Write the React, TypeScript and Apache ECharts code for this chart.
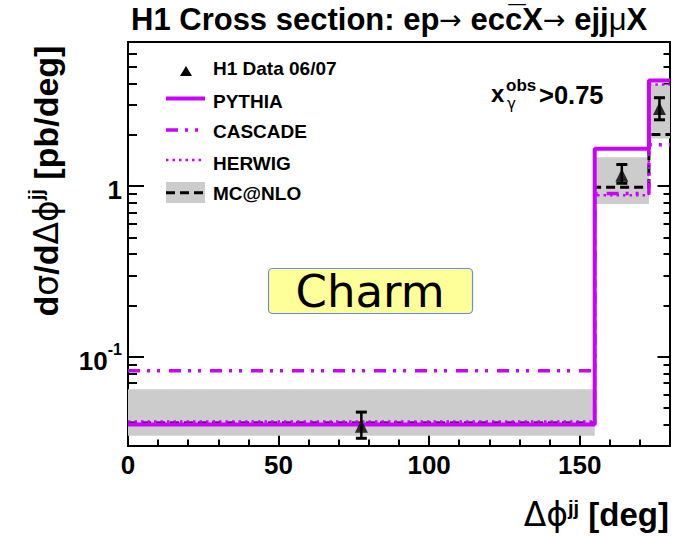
import React, { useEffect, useRef } from "react";
import * as echarts from "echarts";

// ---- data ----
const binEdges = [0, 155, 173, 180];
const pythia = [0.0401, 1.66, 4.17];
const cascade = [0.0827, 0.906, 1.75];
const herwig = [0.0417, 0.886, 3.95];
const mcnlo = [0.0409, 0.987, 2.01];
const mcnloLow = [0.0345, 0.785, 1.9];
const mcnloHigh = [0.0645, 1.48, 3.95];
const dataX = [77.5, 164, 176.5];
const dataY = [0.0392, 1.16, 2.85];
const dataLow = [0.0333, 1.04, 2.45];
const dataHigh = [0.0474, 1.34, 3.3];
const xMajorTicks = [0, 50, 100, 150];
const xMinorTicks = [10, 20, 30, 40, 60, 70, 80, 90, 110, 120, 130, 140, 160, 170];
const yMajorTicks = [0.1, 1];
const yMinorTicks = [0.04, 0.05, 0.06, 0.07, 0.08, 0.09, 0.2, 0.3, 0.4, 0.5, 0.6, 0.7, 0.8, 0.9, 2, 3, 4, 5, 6, 7];
const yMin = 0.03;
const yMax = 7;

const MAG = "#cc00ff";
const FONT = "Liberation Sans";
const L = (v: number) => Math.log10(v);

const step = (vals: number[]) => {
  const pts: number[][] = [];
  vals.forEach((v, i) => {
    pts.push([binEdges[i], L(v)], [binEdges[i + 1], L(v)]);
  });
  return pts;
};

const tickStyle = { color: "#000", width: 2 };

function yAxisDef(position: string, ticks: number[], len: number, labels: boolean) {
  const vals = ticks.map((t) => L(t));
  return {
    type: "value",
    position,
    min: L(yMin),
    max: L(yMax),
    axisLine: { show: false, onZero: false },
    splitLine: { show: false },
    axisTick: { show: true, inside: true, length: len, customValues: vals, lineStyle: tickStyle },
    axisLabel: labels
      ? {
          show: true,
          customValues: vals,
          margin: 6,
          color: "#000",
          fontFamily: FONT,
          fontWeight: "bold",
          fontSize: 26,
          formatter: (v: number) => (v > -0.5 ? "{n|1}" : "{n|10}{s|-1}"),
          rich: {
            n: { fontFamily: FONT, fontWeight: "bold", fontSize: 26, color: "#000", lineHeight: 30, padding: [8, 0, 0, 0] },
            s: { fontFamily: FONT, fontWeight: "bold", fontSize: 16, color: "#000", verticalAlign: "top", lineHeight: 16 },
          },
        }
      : { show: false },
  };
}

function xAxisDef(ticks: number[], len: number, labels: boolean) {
  return {
    type: "value",
    position: "bottom",
    min: 0,
    max: 180,
    axisLine: { show: false, onZero: false },
    splitLine: { show: false },
    axisTick: { show: true, inside: true, length: len, customValues: ticks, lineStyle: tickStyle },
    axisLabel: labels
      ? { show: true, customValues: ticks, margin: 6, color: "#000", fontFamily: FONT, fontWeight: "bold", fontSize: 26 }
      : { show: false },
  };
}

export default function App() {
  const ref = useRef<HTMLDivElement>(null);
  useEffect(() => {
    if (!ref.current) return;
    const chart = echarts.init(ref.current, null, { renderer: "svg" });

    const bandData = mcnloLow.map((lo, i) => [binEdges[i], binEdges[i + 1], L(lo), L(mcnloHigh[i])]);
    const errData = dataX.map((x, i) => [x, L(dataLow[i]), L(dataHigh[i])]);

    const option: any = {
      animation: false,
      textStyle: { fontFamily: FONT },
      grid: { left: 128, right: 5, top: 42, bottom: 90, show: true, borderColor: "#000", borderWidth: 2, backgroundColor: "transparent" },
      xAxis: [xAxisDef(xMajorTicks, 12, true), xAxisDef(xMinorTicks, 6.5, false)],
      yAxis: [
        yAxisDef("left", yMajorTicks, 16, true),
        yAxisDef("left", yMinorTicks, 9, false),
        yAxisDef("right", yMajorTicks, 12.5, false),
        yAxisDef("right", yMinorTicks, 6.5, false),
      ],
      series: [
        {
          type: "custom",
          name: "MC@NLO band",
          z: 1,
          data: bandData,
          encode: { x: [0, 1], y: [2, 3] },
          renderItem: (params: any, api: any) => {
            const p0 = api.coord([api.value(0), api.value(3)]);
            const p1 = api.coord([api.value(1), api.value(2)]);
            return {
              type: "rect",
              shape: { x: p0[0], y: p0[1], width: p1[0] - p0[0], height: p1[1] - p0[1] },
              style: { fill: "#cccccc" },
            };
          },
        },
        {
          type: "line", name: "MC@NLO", z: 2, showSymbol: false, symbol: "none", data: step(mcnlo),
          lineStyle: { color: "#000", width: 3, type: [9, 5] },
        },
        {
          type: "line", name: "HERWIG", z: 3, showSymbol: false, symbol: "none", data: step(herwig),
          lineStyle: { color: MAG, width: 2.5, type: [2.5, 4] },
        },
        {
          type: "line", name: "CASCADE", z: 3, showSymbol: false, symbol: "none", data: step(cascade),
          lineStyle: { color: MAG, width: 3.5, type: [12, 7, 3, 7, 3, 9] },
        },
        {
          type: "line", name: "PYTHIA", z: 4, showSymbol: false, symbol: "none", data: step(pythia),
          lineStyle: { color: MAG, width: 4 },
        },
        {
          type: "custom",
          name: "errors",
          z: 5,
          data: errData,
          encode: { x: 0, y: [1, 2] },
          renderItem: (params: any, api: any) => {
            const lo = api.coord([api.value(0), api.value(1)]);
            const hi = api.coord([api.value(0), api.value(2)]);
            const w = 5.5;
            const st = { stroke: "#000", lineWidth: 3 };
            return {
              type: "group",
              children: [
                { type: "line", shape: { x1: lo[0], y1: lo[1], x2: hi[0], y2: hi[1] }, style: { stroke: "#000", lineWidth: 2.5 } },
                { type: "line", shape: { x1: lo[0] - w, y1: lo[1], x2: lo[0] + w, y2: lo[1] }, style: st },
                { type: "line", shape: { x1: hi[0] - w, y1: hi[1], x2: hi[0] + w, y2: hi[1] }, style: st },
              ],
            };
          },
        },
        {
          type: "scatter", name: "H1 Data 06/07", z: 6, symbol: "triangle", symbolSize: [13, 13],
          itemStyle: { color: "#000" },
          data: dataX.map((x, i) => [x, L(dataY[i])]),
        },
      ],
      graphic: [
        // title
        {
          type: "text", x: 131, y: 19,
          style: {
            text: "{b|H1 Cross section: ep}{a|→}{b| ecc\u0305X}{a|→}{b| ejj}{m|μ}{b|X}",
            align: "left", verticalAlign: "middle",
            rich: {
              b: { fontFamily: FONT, fontWeight: "bold", fontSize: 31, fill: "#000" },
              a: { fontFamily: "DejaVu Sans", fontWeight: "normal", fontSize: 27, fill: "#000" },
              m: { fontFamily: FONT, fontWeight: "normal", fontSize: 31, fill: "#000" },
            },
          },
        },
        // y axis title
        {
          type: "text", x: 46, y: 181, rotation: Math.PI / 2,
          style: {
            text: "{b|d}{g|σ}{b|/d}{g|Δϕ}{s|jj}{b| [pb/deg]}",
            align: "center", verticalAlign: "middle",
            rich: {
              b: { fontFamily: FONT, fontWeight: "bold", fontSize: 34, fill: "#000", lineHeight: 40 },
              g: { fontFamily: "DejaVu Sans", fontWeight: "normal", fontSize: 33, fill: "#000", lineHeight: 40 },
              s: { fontFamily: FONT, fontWeight: "bold", fontSize: 20, fill: "#000", verticalAlign: "top", lineHeight: 22 },
            },
          },
        },
        // x axis title
        {
          type: "text", x: 669, y: 514,
          style: {
            text: "{g|Δϕ}{s|jj}{b| [deg]}",
            align: "right", verticalAlign: "middle",
            rich: {
              b: { fontFamily: FONT, fontWeight: "bold", fontSize: 33, fill: "#000", lineHeight: 32 },
              g: { fontFamily: "DejaVu Sans", fontWeight: "normal", fontSize: 33, fill: "#000", lineHeight: 32 },
              s: { fontFamily: FONT, fontWeight: "bold", fontSize: 20, fill: "#000", verticalAlign: "top", lineHeight: 20 },
            },
          },
        },
        // x_gamma^obs > 0.75
        { type: "text", x: 491, y: 93.4, style: { text: "x", font: "bold 24px 'Liberation Sans'", fill: "#000", verticalAlign: "middle" } },
        { type: "text", x: 506, y: 85.5, style: { text: "obs", font: "bold 17px 'Liberation Sans'", fill: "#000", verticalAlign: "middle" } },
        { type: "text", x: 507, y: 103.5, style: { text: "γ", font: "normal 15px 'DejaVu Sans'", fill: "#000", verticalAlign: "middle" } },
        { type: "text", x: 539, y: 94.5, style: { text: ">0.75", font: "bold 25.5px 'Liberation Sans'", fill: "#000", verticalAlign: "middle" } },
        // Charm box
        {
          type: "rect", shape: { x: 268.5, y: 268.5, width: 204, height: 45, r: 4 },
          style: { fill: "#ffff99", stroke: "#6b8fd4", lineWidth: 1.2 },
        },
        { type: "text", x: 370, y: 291, style: { text: "Charm", font: "normal 45px 'DejaVu Sans'", fill: "#000", align: "center", verticalAlign: "middle" } },
        // legend
        { type: "polygon", shape: { points: [[180, 76], [192, 76], [186, 66]] }, style: { fill: "#000" } },
        { type: "text", x: 213, y: 68.4, style: { text: "H1 Data 06/07", font: "bold 19px 'Liberation Sans'", fill: "#000", verticalAlign: "middle" } },
        { type: "line", shape: { x1: 166, y1: 98.5, x2: 205, y2: 98.5 }, style: { stroke: MAG, lineWidth: 4 } },
        { type: "text", x: 213, y: 101.7, style: { text: "PYTHIA", font: "bold 19px 'Liberation Sans'", fill: "#000", verticalAlign: "middle" } },
        { type: "line", shape: { x1: 166, y1: 130, x2: 205, y2: 130 }, style: { stroke: MAG, lineWidth: 3.5, lineDash: [12, 7, 3, 7, 3, 9] } },
        { type: "text", x: 213, y: 131.7, style: { text: "CASCADE", font: "bold 19px 'Liberation Sans'", fill: "#000", verticalAlign: "middle" } },
        { type: "line", shape: { x1: 166, y1: 160, x2: 205, y2: 160 }, style: { stroke: MAG, lineWidth: 2.5, lineDash: [2.5, 4] } },
        { type: "text", x: 213, y: 163.4, style: { text: "HERWIG", font: "bold 19px 'Liberation Sans'", fill: "#000", verticalAlign: "middle" } },
        { type: "rect", shape: { x: 166, y: 182, width: 39, height: 21 }, style: { fill: "#cccccc" } },
        { type: "line", shape: { x1: 166, y1: 192.7, x2: 205, y2: 192.7 }, style: { stroke: "#000", lineWidth: 3, lineDash: [9, 5] } },
        { type: "text", x: 213, y: 193.4, style: { text: "MC@NLO", font: "bold 19px 'Liberation Sans'", fill: "#000", verticalAlign: "middle" } },
      ],
    };
    chart.setOption(option);
    return () => chart.dispose();
  }, []);
  return <div ref={ref} style={{ position: "absolute", left: 0, top: 0, width: 675, height: 536, background: "#fff" }} />;
}
